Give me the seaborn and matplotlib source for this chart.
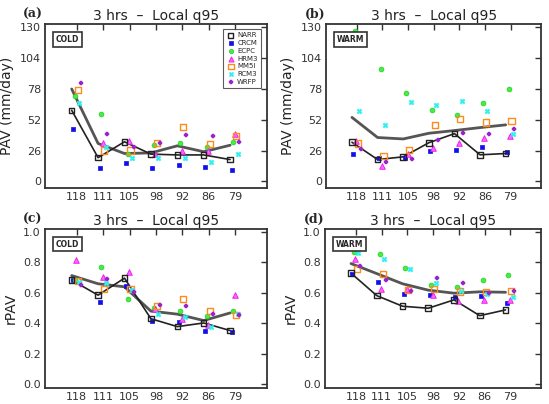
import numpy as np
import pandas as pd
import matplotlib
matplotlib.use("Agg")
import matplotlib.pyplot as plt
import seaborn as sns

sns.set_theme(style="white")
plt.rcParams['font.family'] = ['DejaVu Sans']

categories = ["118", "111", "105", "98", "92", "86", "79"]
models = ["NARR", "CRCM", "ECPC", "HRM3", "MM5I", "RCM3", "WRFP"]

# Panel (a): PAV, COLD
a_vals = {
    "NARR": [60, 20, 33.4, 23, 22.3, 22.3, 18.4],
    "CRCM": [44, 11.6, 15.5, 11.3, 14, 12, 9.3],
    "ECPC": [72, 57, 23, 30.5, 32.5, 29, 33],
    "HRM3": [120, 32.5, 34, 23, 25.7, 25.4, 40],
    "MM5I": [77, 26, 26, 32.5, 46, 31.7, 38],
    "RCM3": [66, 29, 19.5, 19.5, 19.8, 16.4, 23.5],
    "WRFP": [83, 39.6, 29, 32, 39, 38.4, 33.4],
}
a_mean = [78, 32, 23.5, 24, 30, 25, 30.5]

# Panel (b): PAV, WARM
b_vals = {
    "NARR": [33, 18.4, 20.7, 32.6, 40.3, 22.4, 23.5],
    "CRCM": [23, 19.3, 19.3, 25.5, 26.4, 29, 24.4],
    "ECPC": [126.6, 95, 75, 60, 56, 66, 77.8],
    "HRM3": [34.3, 13, 22.7, 28.4, 32.6, 36.6, 38],
    "MM5I": [32, 21.3, 26.4, 47.4, 52.5, 49.7, 50.8],
    "RCM3": [59, 47.4, 66.7, 64.4, 67.8, 59.3, 40],
    "WRFP": [27, 16.5, 19, 35, 41, 39.7, 44],
}
b_mean = [54, 37, 35.8, 40.6, 42.9, 45.4, 47.7]

# Panel (c): rPAV, COLD
c_vals = {
    "NARR": [0.684, 0.585, 0.697, 0.43, 0.378, 0.402, 0.352],
    "CRCM": [0.688, 0.54, 0.648, 0.415, 0.407, 0.35, 0.343],
    "ECPC": [0.686, 0.77, 0.558, 0.503, 0.481, 0.45, 0.481],
    "HRM3": [0.818, 0.703, 0.74, 0.495, 0.43, 0.39, 0.585],
    "MM5I": [0.677, 0.624, 0.626, 0.516, 0.558, 0.479, 0.455],
    "RCM3": [0.67, 0.666, 0.622, 0.464, 0.44, 0.374, 0.46],
    "WRFP": [0.655, 0.692, 0.607, 0.523, 0.516, 0.464, 0.455],
}
c_mean = [0.714, 0.66, 0.64, 0.48, 0.46, 0.418, 0.468]

# Panel (d): rPAV, WARM
d_vals = {
    "NARR": [0.73, 0.582, 0.512, 0.499, 0.554, 0.45, 0.488],
    "CRCM": [0.727, 0.67, 0.59, 0.587, 0.576, 0.578, 0.534],
    "ECPC": [0.87, 0.857, 0.767, 0.653, 0.64, 0.686, 0.716],
    "HRM3": [0.82, 0.624, 0.628, 0.587, 0.547, 0.552, 0.556],
    "MM5I": [0.756, 0.723, 0.617, 0.624, 0.609, 0.607, 0.613],
    "RCM3": [0.864, 0.826, 0.754, 0.664, 0.615, 0.593, 0.574],
    "WRFP": [0.776, 0.688, 0.615, 0.701, 0.664, 0.596, 0.615],
}
d_mean = [0.793, 0.727, 0.66, 0.618, 0.598, 0.607, 0.604]

styles = {
    "NARR": dict(marker="s", facecolor="none", edgecolor="#222222", s=16, lw=1.0),
    "CRCM": dict(marker="s", facecolor="#1010ee", edgecolor="#1010ee", s=10, lw=0.5),
    "ECPC": dict(marker="o", facecolor="#44ee44", edgecolor="#22cc22", s=12, lw=0.5),
    "HRM3": dict(marker="^", facecolor="#ff66ff", edgecolor="#ee22ee", s=16, lw=0.7),
    "MM5I": dict(marker="s", facecolor="none", edgecolor="#ff8c1a", s=20, lw=1.0),
    "RCM3": dict(marker="X", facecolor="#33eeee", edgecolor="#33eeee", s=14, lw=0.3),
    "WRFP": dict(marker="P", facecolor="#9922cc", edgecolor="#9922cc", s=9, lw=0.3),
}
offsets = {m: -0.19 + 0.057 * i for i, m in enumerate(models)}

fig = plt.figure(figsize=(5.49, 4.04), dpi=100)
rects = [
    [0.082, 0.535, 0.404, 0.406],
    [0.594, 0.535, 0.392, 0.406],
    [0.082, 0.040, 0.404, 0.393],
    [0.592, 0.040, 0.394, 0.393],
]
panels = [
    ("(a)", a_vals, a_mean, "COLD", "PAV (mm/day)", [0, 26, 52, 78, 104, 130], (-5.5, 133), True),
    ("(b)", b_vals, b_mean, "WARM", "PAV (mm/day)", [0, 26, 52, 78, 104, 130], (-5.5, 133), False),
    ("(c)", c_vals, c_mean, "COLD", "rPAV", [0.0, 0.2, 0.4, 0.6, 0.8, 1.0], (-0.025, 1.02), False),
    ("(d)", d_vals, d_mean, "WARM", "rPAV", [0.0, 0.2, 0.4, 0.6, 0.8, 1.0], (-0.025, 1.02), False),
]

idx = np.arange(len(categories))
for rect, (lab, vals, mean, season, ylab, yt, ylim, show_leg) in zip(rects, panels):
    ax = fig.add_axes(rect)
    # ensemble mean (grey line) and NARR line
    dfm = pd.DataFrame({"x": idx + offsets["NARR"], "y": mean})
    sns.lineplot(data=dfm, x="x", y="y", ax=ax, color="#555555", lw=2.0, zorder=3)
    dfn = pd.DataFrame({"x": idx + offsets["NARR"], "y": vals["NARR"]})
    sns.lineplot(data=dfn, x="x", y="y", ax=ax, color="#222222", lw=1.2, zorder=3)
    for m in models:
        st = styles[m]
        df = pd.DataFrame({"x": idx + offsets[m], "y": vals[m]})
        sns.scatterplot(data=df, x="x", y="y", ax=ax, marker=st["marker"],
                        facecolor=st["facecolor"], edgecolor=st["edgecolor"],
                        s=st["s"], linewidth=st["lw"], zorder=4 if m != "NARR" else 5,
                        label=m)
    ax.set_xlim(-1.2, 7.2)
    ax.set_ylim(*ylim)
    ax.set_xticks(idx)
    ax.set_xticklabels(categories)
    ax.set_yticks(yt)
    if ylab == "rPAV":
        ax.set_yticklabels([f"{v:.1f}" for v in yt])
    ax.set_xlabel("")
    ax.set_ylabel(ylab, fontsize=10, color="#222222")
    ax.tick_params(direction="in", length=4, width=1.0, top=True, right=True,
                   labelsize=8, colors="#333333", pad=3)
    for sp in ax.spines.values():
        sp.set_linewidth(1.3)
        sp.set_color("#333333")
    ax.set_title("3 hrs  \u2013  Local q95", fontsize=10, color="#222222", pad=3)
    ax.text(-0.1, 1.02, lab, transform=ax.transAxes, fontsize=9, fontweight="bold",
            family="DejaVu Serif", ha="left", va="bottom")
    ax.text(0.05, 0.905, season, transform=ax.transAxes, fontsize=5.5, fontweight="bold",
            ha="left", va="center", zorder=6,
            bbox=dict(boxstyle="square,pad=0.35", fc="white", ec="#333333", lw=1.2))
    if show_leg:
        leg = ax.legend(loc="upper right", fontsize=5, frameon=True, fancybox=False,
                        borderpad=0.5, labelspacing=0.25, handletextpad=0.3,
                        handlelength=1.2, bbox_to_anchor=(0.99, 0.99), markerscale=0.9)
        leg.get_frame().set_edgecolor("#333333")
        leg.get_frame().set_linewidth(0.8)
        leg.set_zorder(7)
    else:
        lg = ax.get_legend()
        if lg is not None:
            lg.remove()

fig.savefig("out.png", dpi=100)
